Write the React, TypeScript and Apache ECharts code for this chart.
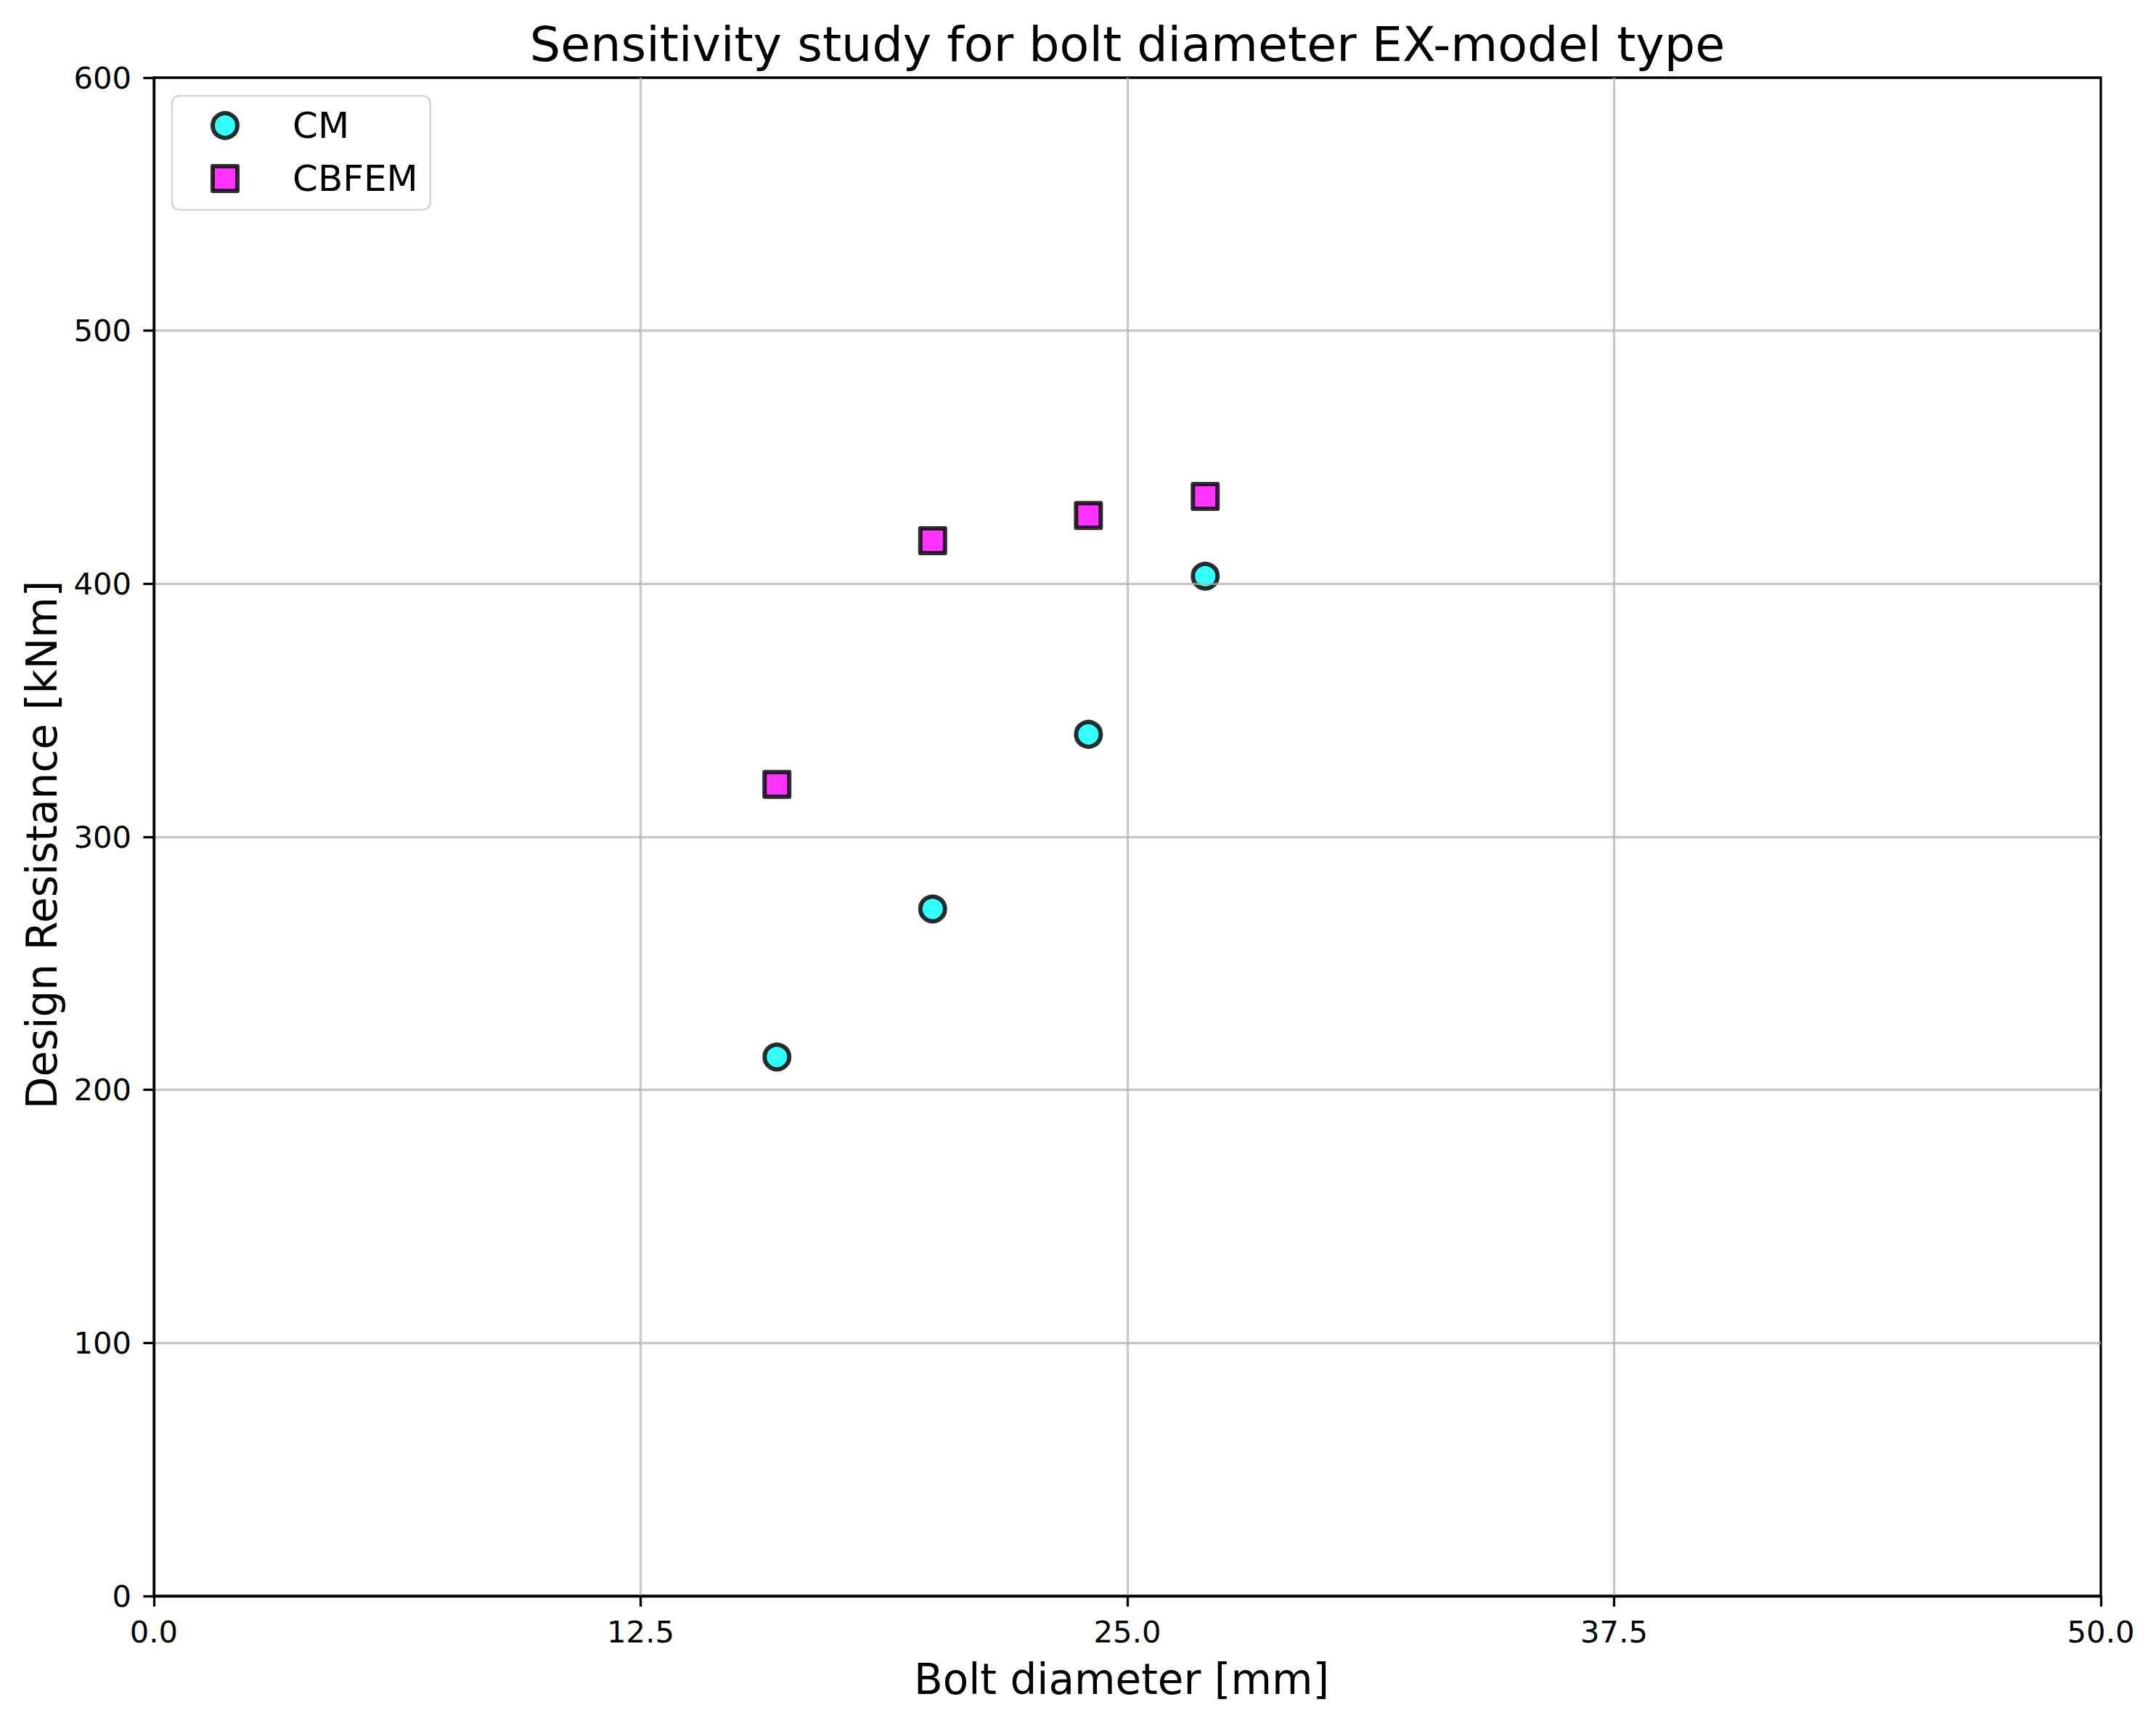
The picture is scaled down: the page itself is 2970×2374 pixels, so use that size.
import React, { useEffect, useRef } from "react";
import * as echarts from "echarts";

const boltDiameters = [16, 20, 24, 27];
const cmValues = [213, 271.5, 340.5, 403];
const cbfemValues = [320.7, 417, 427, 434.5];
const xTicks = [0, 12.5, 25, 37.5, 50];
const yTicks = [0, 100, 200, 300, 400, 500, 600];

const FONT = "DejaVu Sans";

const cmStyle = { color: "#33ffff", borderColor: "rgba(0,0,0,0.82)", borderWidth: 6, opacity: 1 };
const cbfemStyle = { color: "#ff33ff", borderColor: "rgba(0,0,0,0.82)", borderWidth: 6, borderJoin: "round", opacity: 1 };

export default function App() {
  const ref = useRef<HTMLDivElement>(null);

  useEffect(() => {
    document.body.style.margin = "0";
    if (!ref.current) return;
    const chart = echarts.init(ref.current, undefined, { renderer: "svg" });

    const axisCommon = {
      z: 5,
      axisLine: { show: true, onZero: false, lineStyle: { color: "#000", width: 3.33 } },
      axisTick: { show: true, inside: false, length: 14.6, lineStyle: { color: "#000", width: 3.33 } },
      splitLine: {
        show: true,
        showMinLine: false,
        showMaxLine: false,
        lineStyle: { color: "rgba(176,176,176,0.7)", width: 3.33 },
      },
      nameTextStyle: { fontFamily: FONT, fontSize: 58, color: "#000" },
    };

    chart.setOption({
      animation: false,
      backgroundColor: "#fff",
      textStyle: { fontFamily: FONT },
      title: {
        text: "Sensitivity study for bolt diameter EX-model type",
        left: 1553,
        top: 27,
        textAlign: "center",
        padding: 0,
        textStyle: { fontFamily: FONT, fontSize: 66.7, fontWeight: "normal", color: "#000" },
      },
      grid: {
        left: 212,
        top: 107,
        width: 2682,
        height: 2092,
        show: true,
        borderColor: "#000",
        borderWidth: 3.33,
        backgroundColor: "transparent",
        containLabel: false,
      },
      legend: {
        orient: "vertical",
        left: 237,
        top: 132,
        padding: [16, 17, 18, 53],
        itemGap: 23,
        itemWidth: 34,
        itemHeight: 34,
        backgroundColor: "rgba(255,255,255,0.8)",
        borderColor: "#d6d6d6",
        borderWidth: 2.7,
        borderRadius: 10,
        textStyle: { fontFamily: FONT, fontSize: 50, lineHeight: 50, color: "#000", padding: [0, 0, 0, 71] },
        data: [
          { name: "CM", icon: "circle", itemStyle: cmStyle },
          { name: "CBFEM", icon: "rect", itemStyle: cbfemStyle },
        ],
      },
      xAxis: {
        ...axisCommon,
        type: "value",
        min: xTicks[0],
        max: xTicks[xTicks.length - 1],
        interval: 12.5,
        name: "Bolt diameter [mm]",
        nameLocation: "middle",
        nameGap: 86,
        nameTextStyle: { ...axisCommon.nameTextStyle, padding: [0, 16, 0, 0] },
        axisLabel: {
          fontFamily: FONT,
          fontSize: 41.7,
          color: "#000",
          margin: 28,
          formatter: (v: number) => v.toFixed(1),
        },
      },
      yAxis: {
        ...axisCommon,
        type: "value",
        min: yTicks[0],
        max: yTicks[yTicks.length - 1],
        interval: 100,
        name: "Design Resistance [kNm]",
        nameLocation: "middle",
        nameGap: 125,
        nameTextStyle: { ...axisCommon.nameTextStyle, padding: [0, 22, 0, 0] },
        axisLabel: {
          fontFamily: FONT,
          fontSize: 41.7,
          color: "#000",
          margin: 31,
          formatter: (v: number) => String(Math.round(v)),
        },
      },
      series: [
        {
          name: "CM",
          type: "scatter",
          z: 2,
          symbol: "circle",
          symbolSize: 34,
          itemStyle: cmStyle,
          data: boltDiameters.map((x, i) => [x, cmValues[i]]),
        },
        {
          name: "CBFEM",
          type: "scatter",
          z: 2,
          symbol: "rect",
          symbolSize: 34,
          itemStyle: cbfemStyle,
          data: boltDiameters.map((x, i) => [x, cbfemValues[i]]),
        },
      ],
    });

    return () => chart.dispose();
  }, []);

  return <div ref={ref} style={{ width: 2970, height: 2374, display: "block" }} />;
}
